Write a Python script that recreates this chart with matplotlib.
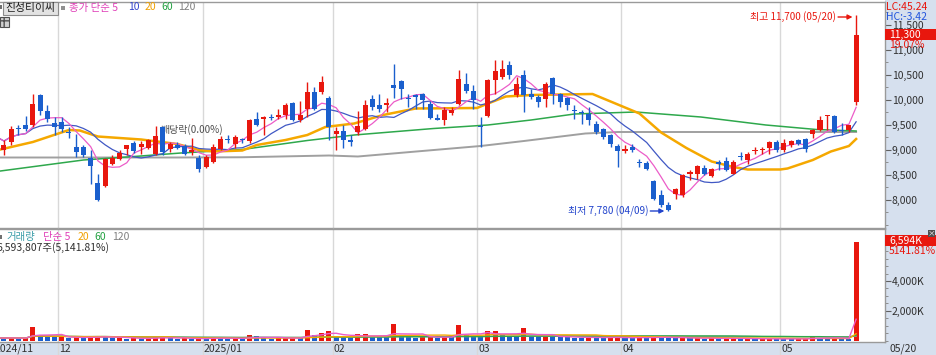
import numpy as np
import pandas as pd
import matplotlib
matplotlib.use('Agg')
import matplotlib.pyplot as plt
from matplotlib.patches import Rectangle
from matplotlib.ticker import FixedLocator, MultipleLocator, FuncFormatter

plt.rcParams['font.family'] = ['Noto Sans CJK KR', 'DejaVu Sans']

# ---------------- data ----------------
opens = [9400, 9000, 9160, 9440, 9500, 9490, 10090, 9770, 9540, 9560,
         9350, 9060, 9060, 8840, 8340, 8280, 8720, 8810, 9010, 9140,
         9060, 9040, 8920, 9460, 9020, 9100, 9080, 8960, 8840, 8660,
         8760, 9010, 9200, 9120, 9220, 9170, 9620, 9610, 9660, 9660,
         9690, 9940, 9590, 9820, 10160, 10160, 10040, 9320, 9380, 9200,
         9350, 9410, 10020, 9900, 9890, 10290, 10370, 10030, 10090, 10120,
         9920, 9640, 9590, 9740, 9920, 10320, 10170, 9460, 9680, 10390,
         10460, 10700, 10090, 10500, 10110, 10060, 10010, 10440, 10120, 10040,
         9800, 9760, 9720, 9520, 9410, 9290, 9080, 8970, 9060, 8750,
         8740, 8370, 8090, 7900, 8110, 8090, 8520, 8510, 8640, 8470,
         8760, 8780, 8520, 8870, 8800, 8980, 8990, 9040, 9160, 8990,
         9090, 9200, 9220, 9320, 9390, 9680, 9670, 9400, 9390, 9950]
highs = [9450, 9190, 9480, 9500, 9670, 10120, 10120, 9900, 9660, 9660,
         9460, 9320, 9090, 8990, 8520, 8840, 8900, 8990, 9100, 9170,
         9170, 9220, 9480, 9480, 9160, 9160, 9120, 9230, 8900, 8900,
         9120, 9280, 9290, 9290, 9240, 9620, 9760, 9670, 9720, 9820,
         9940, 9960, 9970, 10360, 10260, 10480, 10080, 9460, 9490, 9290,
         9770, 9990, 10090, 10120, 10040, 10720, 10390, 10120, 10120, 10140,
         9970, 9720, 9860, 9860, 10590, 10540, 10290, 9660, 10420, 10790,
         10790, 10770, 10460, 10590, 10210, 10100, 10360, 10460, 10140, 10060,
         9890, 9790, 9860, 9570, 9440, 9320, 9120, 9100, 9120, 8820,
         8770, 8390, 8190, 7960, 8240, 8510, 8600, 8690, 8690, 8640,
         8800, 8860, 8790, 8960, 8960, 9050, 9050, 9180, 9190, 9220,
         9200, 9220, 9240, 9420, 9670, 9700, 9690, 9540, 9490, 11700]
lows = [9200, 8900, 9100, 9290, 9370, 9460, 9690, 9560, 9290, 9360,
        9240, 8860, 8860, 8320, 7970, 8260, 8690, 8790, 8890, 8940,
        8920, 9010, 8890, 8900, 8960, 9020, 8900, 8900, 8560, 8640,
        8740, 8990, 9140, 9040, 9140, 9140, 9480, 9290, 9590, 9620,
        9620, 9570, 9560, 9660, 9790, 10120, 9190, 8990, 9040, 9070,
        9300, 9390, 9790, 9760, 9760, 10040, 10020, 9860, 9820, 9820,
        9610, 9590, 9490, 9700, 9890, 10140, 9820, 9060, 9660, 10120,
        10420, 10420, 10060, 9760, 10020, 9860, 9860, 9920, 9860, 9790,
        9620, 9520, 9500, 9320, 9220, 9060, 8660, 8940, 8960, 8660,
        8590, 7990, 7860, 7780, 8020, 8060, 8400, 8420, 8490, 8460,
        8590, 8580, 8510, 8790, 8710, 8910, 8920, 8920, 8960, 8960,
        9060, 9090, 8960, 9240, 9380, 9400, 9330, 9290, 9360, 9890]
closes = [9250, 9090, 9420, 9420, 9410, 9920, 9770, 9620, 9460, 9410,
          9340, 8960, 8900, 8680, 7990, 8810, 8840, 8940, 9090, 8970,
          9120, 9190, 9270, 8960, 9120, 9040, 8920, 8990, 8620, 8860,
          9060, 9220, 9190, 9260, 9190, 9600, 9490, 9660, 9640, 9700,
          9890, 9590, 9700, 10160, 9820, 10360, 9460, 9370, 9190, 9160,
          9480, 9900, 9860, 9820, 9940, 10240, 10210, 10020, 10060, 9990,
          9640, 9600, 9800, 9790, 10420, 10170, 9990, 9450, 10390, 10570,
          10610, 10490, 10320, 10090, 10060, 9960, 10320, 10120, 9960, 9890,
          9780, 9740, 9590, 9360, 9260, 9120, 8970, 9010, 8990, 8740,
          8620, 8010, 7890, 7800, 8220, 8490, 8550, 8670, 8510, 8620,
          8710, 8590, 8760, 8850, 8920, 9000, 9000, 9160, 8990, 9140,
          9180, 9120, 9020, 9400, 9600, 9690, 9360, 9380, 9490, 11300]
# volume in thousand shares
volumes = [210, 180, 230, 160, 190, 950, 420, 260, 240, 300,
           180, 260, 200, 280, 330, 300, 180, 200, 160, 190,
           150, 170, 260, 280, 170, 150, 180, 120, 200, 170,
           230, 200, 150, 170, 140, 380, 310, 200, 160, 180,
           210, 230, 200, 700, 420, 520, 640, 300, 240, 200,
           470, 480, 300, 260, 240, 1150, 420, 280, 230, 260,
           300, 220, 280, 240, 1080, 430, 340, 280, 680, 690,
           380, 350, 300, 860, 340, 300, 320, 300, 260, 240,
           230, 220, 250, 240, 220, 230, 260, 200, 180, 260,
           220, 300, 250, 200, 180, 240, 170, 200, 160, 200,
           150, 170, 200, 150, 160, 120, 130, 160, 150, 140,
           120, 130, 150, 290, 200, 180, 200, 150, 128, 6594]

# moving averages 20 / 60 / 120 (candle index, price)
ma20_idx = [0.5, 5, 10, 11.5, 14, 20, 25, 28, 30, 34, 36, 40, 43, 45.5, 49.5, 53.5, 58,
            66.5, 67.5, 70.5, 74, 82.5, 86, 89, 92, 95.5, 99, 102, 104, 108.5, 109.5,
            113, 115.5, 118, 119]
ma20_val = [9000, 9150, 9390, 9380, 9260, 9200, 9110, 8990, 8960, 8980, 9090, 9190, 9290,
            9450, 9520, 9690, 9820, 9830, 9890, 10060, 10090, 10110, 9900, 9720, 9340,
            9030, 8760, 8650, 8600, 8600, 8620, 8790, 8960, 9070, 9210]
ma60_idx = [0.5, 12, 19, 25.5, 34, 43, 49.5, 60.5, 68, 74, 80, 88.5, 97.5, 106.5, 113.5, 119]
ma60_val = [8570, 8790, 8860, 8930, 9000, 9180, 9290, 9420, 9490, 9590, 9710, 9750, 9650,
            9490, 9400, 9370]
ma120_idx = [0.5, 25, 34, 46, 50, 67, 73, 81.5, 86, 98, 119]
ma120_val = [8840, 8840, 8845, 8880, 8860, 9070, 9170, 9320, 9350, 9350, 9350]

month_start_idx = [9, 29, 47, 67, 87, 109]
month_labels = ['12', '2025/01', '02', '03', '04', '05']
first_label = '2024/11'
last_date = '05/20'
exdiv_idx = 27
price_ticks = [8000, 8500, 9000, 9500, 10000, 10500, 11000, 11500]
vol_ticks = [2000, 4000]

# ---------------- styling ----------------
RED = '#E8170E'
BLUE = '#1A5FCD'
C_MA5 = '#EC5CC8'
C_MA10 = '#4058C4'
C_MA20 = '#F5A800'
C_MA60 = '#2EA84C'
C_MA120 = '#A0A0A0'
PANEL = '#D6E0EE'
GRID = '#D8D8D8'
TXT = '#303030'

W, H = 936, 355
fig = plt.figure(figsize=(W / 100, H / 100), dpi=100)
fig.patch.set_facecolor('white')


def fx(px):
    return px / W


def fy(py):
    return 1 - py / H


fig.add_artist(Rectangle((fx(885), 0), 1 - fx(885), 1, transform=fig.transFigure,
                         fc=PANEL, ec='none', zorder=0))
fig.add_artist(Rectangle((0, 0), 1, 13 / H, transform=fig.transFigure,
                         fc=PANEL, ec='none', zorder=0))

ax1 = fig.add_axes([0, fy(228), fx(885), (228 - 2) / H])
ax2 = fig.add_axes([0, fy(342), fx(885), (342 - 229) / H])
for a in (ax1, ax2):
    a.set_zorder(1)
    a.set_facecolor('white')
    a.set_xlim(0.45, 123.0)
    a.spines['left'].set_visible(False)
    for s in ('top', 'bottom', 'right'):
        a.spines[s].set_color('#9A9A9A')
        a.spines[s].set_linewidth(1)
    a.tick_params(axis='x', length=0, labelbottom=False)
    a.yaxis.tick_right()
    a.tick_params(axis='y', which='major', direction='out', length=4, width=0.8,
                  color='#606060', labelsize=7.5, labelcolor=TXT, pad=1)
    a.tick_params(axis='y', which='minor', direction='out', length=2, width=0.6,
                  color='#808080')
    a.set_xticks([])

idx = np.arange(len(closes))
O = np.array(opens, float)
Hh = np.array(highs, float)
L = np.array(lows, float)
C = np.array(closes, float)
V = np.array(volumes, float)

ax1.set_ylim(7430, 11950)
ax1.yaxis.set_major_locator(FixedLocator(price_ticks))
ax1.yaxis.set_minor_locator(MultipleLocator(250))
ax1.yaxis.set_major_formatter(FuncFormatter(lambda v, p: f'{v:,.0f}'))

ax2.set_ylim(-67, 7467)
ax2.yaxis.set_major_locator(FixedLocator(vol_ticks))
ax2.yaxis.set_minor_locator(MultipleLocator(500))
ax2.yaxis.set_major_formatter(FuncFormatter(lambda v, p: f'{v:,.0f}K'))

# month grid lines
bounds = [m - 0.5 for m in month_start_idx]
band_frac = 13 / 113
for b in bounds:
    ax1.axvline(b, color=GRID, lw=1, zorder=0)
    ax2.axvline(b, ymin=-band_frac, ymax=1, clip_on=False, color=GRID, lw=1, zorder=0)
for b, lab in zip(bounds, month_labels):
    ax2.text(b + 0.2, -7 / 113, lab, transform=ax2.get_xaxis_transform(), ha='left',
             va='center', fontsize=7.5, color=TXT)
ax2.text(-0.35, -7 / 113, first_label, transform=ax2.get_xaxis_transform(), ha='left',
         va='center', fontsize=7.5, color=TXT)

# moving averages (price)
cs = pd.Series(C)
ma5 = cs.rolling(5, min_periods=1).mean()
ma10 = cs.rolling(10, min_periods=1).mean()
ax1.plot(ma120_idx, ma120_val, color=C_MA120, lw=1.4, zorder=2)
ax1.plot(ma60_idx, ma60_val, color=C_MA60, lw=1.1, zorder=2)
ax1.plot(ma20_idx, ma20_val, color=C_MA20, lw=1.8, zorder=2)
ax1.plot(idx, ma10, color=C_MA10, lw=0.9, zorder=2)
ax1.plot(idx, ma5, color=C_MA5, lw=0.9, zorder=2)

# candles
cols = np.where(C >= O, RED, BLUE)
ax1.vlines(idx, L, Hh, colors=cols, lw=1, zorder=3)
body_b = np.minimum(O, C)
body_h = np.maximum(np.abs(C - O), 20)
ax1.bar(idx, body_h, bottom=body_b, width=0.7, color=cols, lw=0, zorder=4)

# annotations
hi = int(np.argmax(Hh))
lo = int(np.argmin(L))
ax1.text(hi - 2.75, Hh[hi] - 50, f'최고 {Hh[hi]:,.0f} (05/20)', color=RED, fontsize=7.2,
         ha='right', va='center', zorder=6)
ax1.annotate('', xy=(hi - 0.5, Hh[hi] - 50), xytext=(hi - 2.5, Hh[hi] - 50),
             arrowprops=dict(arrowstyle='-|>', color=RED, lw=1, mutation_scale=7,
                             shrinkA=0, shrinkB=0), zorder=6)
ax1.text(lo - 2.8, L[lo] - 10, f'최저 {L[lo]:,.0f} (04/09)', color='#2244CC', fontsize=7.2,
         ha='right', va='center', zorder=6)
ax1.annotate('', xy=(lo - 0.55, L[lo] - 10), xytext=(lo - 2.5, L[lo] - 10),
             arrowprops=dict(arrowstyle='-|>', color='#2244CC', lw=1, mutation_scale=7,
                             shrinkA=0, shrinkB=0), zorder=6)
ax1.text(exdiv_idx - 4.4, 9390, '배당락(0.00%)', color='#505050', fontsize=7.2,
         ha='left', va='center', zorder=2.5)

# volume
vcols = [RED] + [RED if V[i] >= V[i - 1] else BLUE for i in range(1, len(V))]
ax2.bar(idx, V, width=0.7, color=vcols, lw=0, zorder=3)
vs = pd.Series(V)
ax2.plot(idx, vs.rolling(120, min_periods=1).mean(), color=C_MA120, lw=1, zorder=4)
ax2.plot(idx, vs.rolling(60, min_periods=1).mean(), color=C_MA60, lw=1, zorder=4)
ax2.plot(idx, vs.rolling(20, min_periods=1).mean(), color=C_MA20, lw=1, zorder=4)
ax2.plot(idx, vs.rolling(5, min_periods=1).mean(), color=C_MA5, lw=1, zorder=4)

# ---------------- header legends ----------------
def ftext(px, py, s, color, size=7.5, **kw):
    fig.text(fx(px), fy(py), s, color=color, fontsize=size, ha='left', va='center',
             zorder=6, **kw)


fig.add_artist(Rectangle((0, fy(9)), fx(2), 4 / H, transform=fig.transFigure,
                         fc='#707070', ec='none', zorder=5))
fig.add_artist(Rectangle((fx(3), fy(14.5)), fx(55), 13 / H, transform=fig.transFigure,
                         fc='#E2E2E2', ec='#8C8C8C', lw=0.8, zorder=5))
ftext(5, 7.5, '진성티이씨', '#202020', 7.8)
fig.add_artist(Rectangle((fx(61), fy(9.5)), fx(3.5), 3.5 / H, transform=fig.transFigure,
                         fc='#909090', ec='none', zorder=5))
ftext(69, 7.5, '종가 단순 5', '#E040B8')
ftext(128, 7.5, '10', '#3344CC')
ftext(145, 7.5, '20', '#F0A000')
ftext(161, 7.5, '60', '#22A040')
ftext(178, 7.5, '120', '#808080')
fig.add_artist(Rectangle((0, fy(27)), fx(9), 10 / H, transform=fig.transFigure,
                         fc='#CFCFCF', ec='#505050', lw=0.8, hatch='++', zorder=5))

fig.add_artist(Rectangle((0, fy(239)), fx(2), 4 / H, transform=fig.transFigure,
                         fc='#707070', ec='none', zorder=5))
ftext(6, 237, '거래량', '#3A9CA8')
ftext(43, 237, '단순 5', '#E040B8')
ftext(78, 237, '20', '#F0A000')
ftext(94, 237, '60', '#22A040')
ftext(112, 237, '120', '#808080')
ftext(-4, 248, '6,593,807주(5,141.81%)', TXT)

# ---------------- right side labels ----------------
ftext(886, 7, 'LC:45.24', RED)
ftext(886, 17, 'HC:-3.42', '#2255DD')
fig.add_artist(Rectangle((fx(885), fy(40)), 1 - fx(885), 11 / H, transform=fig.transFigure,
                         fc=RED, ec='none', zorder=5))
ftext(889, 34.5, f'{C[-1]:,.0f}', 'white')
ftext(889, 45, '19.07%', RED)
fig.add_artist(Rectangle((fx(885), fy(246)), 1 - fx(885), 11 / H, transform=fig.transFigure,
                         fc=RED, ec='none', zorder=5))
ftext(889, 240.5, '6,594K', 'white')
ftext(889, 251, '5141.81%', RED)
fig.add_artist(Rectangle((fx(928), fy(237)), fx(7), 7 / H, transform=fig.transFigure,
                         fc='#505050', ec='none', zorder=5))
fig.text(fx(931.5), fy(233.5), '×', color='white', fontsize=5.5, ha='center', va='center',
         zorder=6)
ftext(890, 349, last_date, TXT)

fig.savefig('out.png', dpi=100, facecolor='white')
